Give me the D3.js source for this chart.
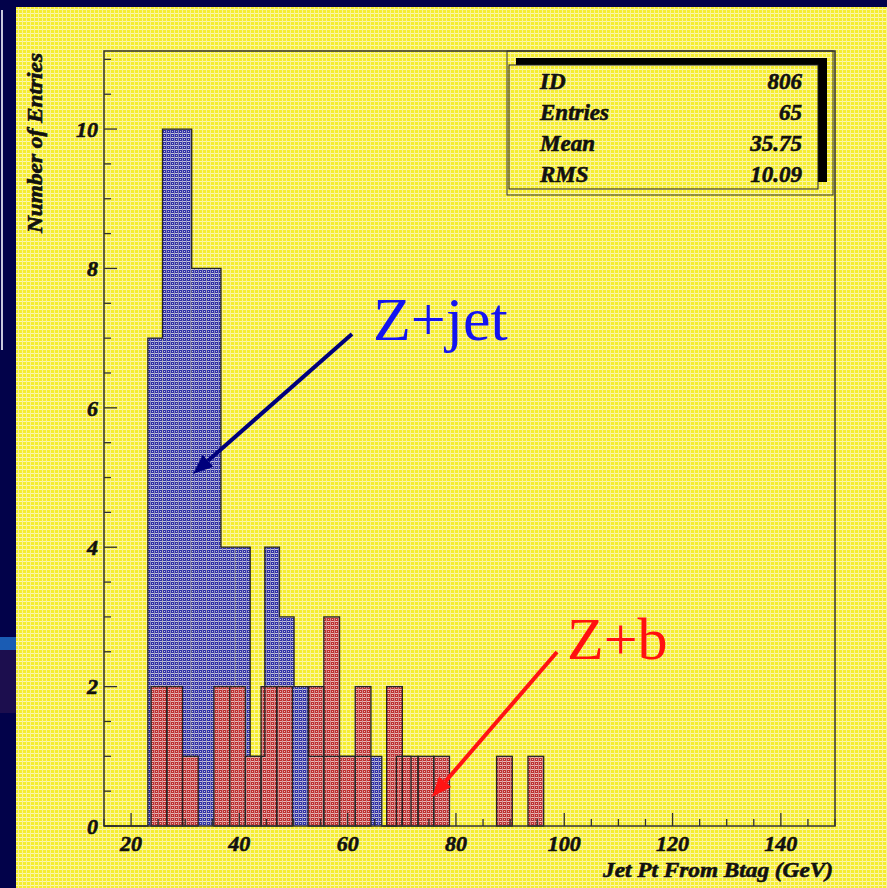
<!DOCTYPE html>
<html>
<head>
<meta charset="utf-8">
<script src="https://cdn.jsdelivr.net/npm/d3@7"></script>
<style>
  html, body { margin: 0; padding: 0; background: #02024a; }
  svg { display: block; }
</style>
</head>
<body>
<div id="chart"></div>
<script>
// histogram contents
const zjetStart = 15, zjetWidth = 2.7;   // 50 bins over 15..150
const zjetCounts = [0, 0, 0, 7, 10, 10, 8, 8, 4, 4, 1, 4, 3, 2, 1, 1, 1, 1, 1, 0, 1];
const zbStart = 15, zbWidth = 2.9;       // 50 bins over 15..160
const zbCounts = [0, 0, 0, 2, 2, 1, 0, 2, 2, 1, 2, 2, 0, 2, 3, 1, 2, 0, 2, 1, 1, 1, 0, 0, 0, 1, 0, 1];

const xTicks = [20, 40, 60, 80, 100, 120, 140];
const yTicks = [0, 2, 4, 6, 8, 10];
const statLabels = ["ID", "Entries", "Mean", "RMS"];
const statValues = ["806", "65", "35.75", "10.09"];

const W = 887, H = 888;
const margin = { top: 51, right: 52, bottom: 62, left: 104 };
const font = "'Liberation Serif', 'DejaVu Serif', serif";

const svg = d3.select("#chart").append("svg")
  .attr("width", W)
  .attr("height", H);

const defs = svg.append("defs");

// yellow canvas texture
const bg = defs.append("pattern").attr("id", "bgpat")
  .attr("width", 4).attr("height", 4).attr("patternUnits", "userSpaceOnUse");
bg.append("rect").attr("width", 4).attr("height", 4).attr("fill", "#f5ed30");
bg.append("rect").attr("y", 1).attr("width", 4).attr("height", 1).attr("fill", "#fbf7b0");
bg.append("rect").attr("x", 2).attr("width", 1).attr("height", 4).attr("fill", "#f9f396");

// hatched fills of the two histograms
function fillPattern(id, base, light, mid) {
  const p = defs.append("pattern").attr("id", id)
    .attr("width", 4).attr("height", 4).attr("patternUnits", "userSpaceOnUse");
  p.append("rect").attr("width", 4).attr("height", 4).attr("fill", base);
  p.append("rect").attr("y", 1).attr("width", 4).attr("height", 1).attr("fill", light);
  p.append("rect").attr("x", 2).attr("width", 1).attr("height", 4).attr("fill", mid);
  p.append("rect").attr("x", 0).attr("y", 3).attr("width", 1).attr("height", 1).attr("fill", light);
}
fillPattern("bluepat", "#3030a6", "#c2c2de", "#8a8ac2");
fillPattern("redpat", "#be3030", "#e8b6b6", "#d28888");

// slide background bits
svg.append("rect").attr("width", W).attr("height", H).attr("fill", "#02024a");
svg.append("line").attr("x1", 2).attr("x2", 2).attr("y1", 10).attr("y2", 350)
  .attr("stroke", "#c8c8dc").attr("stroke-width", 2);
svg.append("rect").attr("x", 0).attr("y", 637).attr("width", 16).attr("height", 13).attr("fill", "#1a5cb4");
svg.append("rect").attr("x", 0).attr("y", 650).attr("width", 16).attr("height", 63).attr("fill", "#1c0e4e");
svg.append("rect").attr("x", 16).attr("y", 7).attr("width", W - 16).attr("height", H - 7)
  .attr("fill", "url(#bgpat)");

const x = d3.scaleLinear().domain([15, 150]).range([margin.left, W - margin.right]);
const y = d3.scaleLinear().domain([0, 11.12]).range([H - margin.bottom, margin.top]);

const g = svg.append("g");

const zjetBins = zjetCounts.map((c, i) => ({ x0: zjetStart + i * zjetWidth, x1: zjetStart + (i + 1) * zjetWidth, c }));
const zbBins = zbCounts.map((c, i) => ({ x0: zbStart + i * zbWidth, x1: zbStart + (i + 1) * zbWidth, c }));

// Z+jet filled bins
g.selectAll("rect.zjet").data(zjetBins.filter(d => d.c > 0)).join("rect")
  .attr("class", "zjet")
  .attr("x", d => x(d.x0)).attr("width", d => x(d.x1) - x(d.x0))
  .attr("y", d => y(d.c)).attr("height", d => y(0) - y(d.c))
  .attr("fill", "url(#bluepat)");

// Z+b filled bins on top
g.selectAll("rect.zb").data(zbBins.filter(d => d.c > 0)).join("rect")
  .attr("class", "zb")
  .attr("x", d => x(d.x0)).attr("width", d => x(d.x1) - x(d.x0))
  .attr("y", d => y(d.c)).attr("height", d => y(0) - y(d.c))
  .attr("fill", "url(#redpat)");

// Z+jet outline (shows through the red)
let outline = "";
zjetBins.forEach((d, i) => {
  const prev = i === 0 ? 0 : zjetBins[i - 1].c;
  if (i === 0) outline += `M${x(d.x0)},${y(0)}`;
  outline += `L${x(d.x0)},${y(prev)}L${x(d.x0)},${y(d.c)}L${x(d.x1)},${y(d.c)}`;
});
outline += `L${x(zjetBins[zjetBins.length - 1].x1)},${y(0)}`;
g.append("path").attr("d", outline)
  .attr("fill", "none").attr("stroke", "#262626").attr("stroke-width", 1.3);

// Z+b bin boxes
g.selectAll("rect.zbline").data(zbBins.filter(d => d.c > 0)).join("rect")
  .attr("class", "zbline")
  .attr("x", d => x(d.x0)).attr("width", d => x(d.x1) - x(d.x0))
  .attr("y", d => y(d.c)).attr("height", d => y(0) - y(d.c))
  .attr("fill", "none").attr("stroke", "#262626").attr("stroke-width", 1.3);

// frame
svg.append("rect")
  .attr("x", x(15)).attr("y", y(11.12))
  .attr("width", x(150) - x(15)).attr("height", y(0) - y(11.12))
  .attr("fill", "none").attr("stroke", "#303030").attr("stroke-width", 1.5);

function boldText(sel, size) {
  return sel.style("font-family", font).style("font-weight", "bold").style("font-style", "italic")
    .style("font-size", size + "px").attr("fill", "#111")
    .attr("stroke", "#111").attr("stroke-width", 0.6);
}

// axes: ticks point into the frame
const xAxis = svg.append("g").attr("transform", `translate(0,${y(0)})`);
xAxis.selectAll("line").data(d3.range(15, 150.1, 5)).join("line")
  .attr("x1", d => x(d)).attr("x2", d => x(d))
  .attr("y1", 0).attr("y2", d => (d % 20 === 0 ? -13 : -7))
  .attr("stroke", "#303030").attr("stroke-width", 1.3);
boldText(xAxis.selectAll("text").data(xTicks).join("text")
  .attr("x", d => x(d)).attr("y", 25)
  .attr("text-anchor", "middle"), 22)
  .text(d => d);

const yAxis = svg.append("g").attr("transform", `translate(${x(15)},0)`);
yAxis.selectAll("line").data(d3.range(0, 11.01, 0.5)).join("line")
  .attr("x1", 0).attr("x2", d => (d % 2 === 0 ? 13 : 7))
  .attr("y1", d => y(d)).attr("y2", d => y(d))
  .attr("stroke", "#303030").attr("stroke-width", 1.3);
boldText(yAxis.selectAll("text").data(yTicks).join("text")
  .attr("x", -6).attr("y", d => y(d)).attr("dy", "0.35em")
  .attr("text-anchor", "end"), 22)
  .text(d => d);

// axis titles
boldText(svg.append("text")
  .attr("x", 833).attr("y", 877)
  .attr("text-anchor", "end")
  .attr("textLength", 230).attr("lengthAdjust", "spacingAndGlyphs"), 22)
  .text("Jet Pt From Btag (GeV)");

boldText(svg.append("text")
  .attr("transform", "translate(42,53) rotate(-90)")
  .attr("text-anchor", "end")
  .attr("textLength", 180).attr("lengthAdjust", "spacingAndGlyphs"), 21)
  .text("Number of Entries");

// stats box
const stats = svg.append("g");
stats.append("rect").attr("x", 507).attr("y", 51).attr("width", 326).attr("height", 144)
  .attr("fill", "none").attr("stroke", "#303030").attr("stroke-width", 1);
stats.append("rect").attr("x", 516).attr("y", 58).attr("width", 311).attr("height", 124)
  .attr("fill", "#000");
stats.append("rect").attr("x", 509).attr("y", 65).attr("width", 309).attr("height", 124)
  .attr("fill", "url(#bgpat)").attr("stroke", "#202020").attr("stroke-width", 1);
statLabels.forEach((lab, i) => {
  const by = 89 + i * 31;
  boldText(stats.append("text").attr("x", 540).attr("y", by), 23).text(lab);
  boldText(stats.append("text").attr("x", 802).attr("y", by).attr("text-anchor", "end"), 23)
    .text(statValues[i]);
});

// annotations
function arrow(x1, y1, x2, y2, color) {
  const ang = Math.atan2(y2 - y1, x2 - x1);
  const len = 20, half = 8;
  const bx = x2 - len * Math.cos(ang), by = y2 - len * Math.sin(ang);
  svg.append("line").attr("x1", x1).attr("y1", y1).attr("x2", bx).attr("y2", by)
    .attr("stroke", color).attr("stroke-width", 4);
  svg.append("path")
    .attr("d", `M${x2},${y2}L${bx + half * Math.sin(ang)},${by - half * Math.cos(ang)}L${bx - half * Math.sin(ang)},${by + half * Math.cos(ang)}Z`)
    .attr("fill", color);
}
arrow(352, 334, 193, 474, "#00007c");
arrow(557, 652, 432, 797, "#ff1414");

svg.append("text").attr("x", 373).attr("y", 340)
  .style("font-family", font).style("font-size", "62px").attr("fill", "#1414f0")
  .text("Z+jet");
svg.append("text").attr("x", 567).attr("y", 659)
  .style("font-family", font).style("font-size", "60px").attr("fill", "#ff1010")
  .text("Z+b");
</script>
</body>
</html>
